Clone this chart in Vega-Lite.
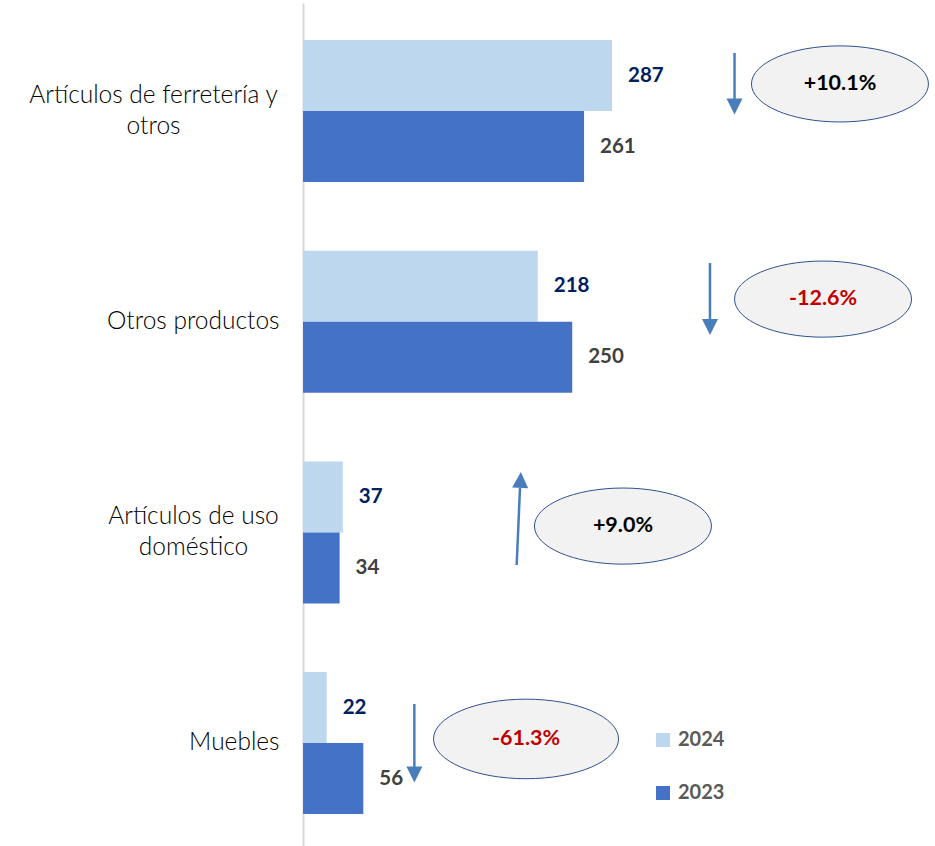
{
  "$schema": "https://vega.github.io/schema/vega-lite/v6.json",
  "width": 630,
  "height": 843,
  "autosize": {"type": "none"},
  "padding": {"left": 303, "top": 3, "right": 2, "bottom": 0},
  "background": "white",
  "config": {
    "view": {"stroke": null},
    "font": "Lato",
    "legend": {
      "orient": "none",
      "legendX": 350,
      "legendY": 727,
      "title": null,
      "symbolType": "square",
      "symbolSize": 196,
      "symbolStrokeWidth": 0,
      "labelFont": "Lato",
      "labelFontSize": 20,
      "labelFontWeight": "bold",
      "labelColor": "#595959",
      "labelOffset": 5,
      "rowPadding": 33
    }
  },
  "datasets": {
    "bars": [
      {"cat": "Artículos de ferretería y otros", "year": "2024", "value": 287},
      {"cat": "Artículos de ferretería y otros", "year": "2023", "value": 261},
      {"cat": "Otros productos", "year": "2024", "value": 218},
      {"cat": "Otros productos", "year": "2023", "value": 250},
      {"cat": "Artículos de uso doméstico", "year": "2024", "value": 37},
      {"cat": "Artículos de uso doméstico", "year": "2023", "value": 34},
      {"cat": "Muebles", "year": "2024", "value": 22},
      {"cat": "Muebles", "year": "2023", "value": 56}
    ],
    "ellipses": [
      {"cat": "Artículos de ferretería y otros", "x": 498.6, "y": 0.384, "pct": 10.1, "label": "+10.1%"},
      {"cat": "Otros productos", "x": 482.9, "y": 1.405, "pct": -12.6, "label": "-12.6%"},
      {"cat": "Artículos de uso doméstico", "x": 297.1, "y": 2.482, "pct": 9.0, "label": "+9.0%"},
      {"cat": "Muebles", "x": 207.1, "y": 3.492, "pct": -61.3, "label": "-61.3%"}
    ],
    "arrows": [
      {"cat": "Artículos de ferretería y otros", "x1": 400.7, "y1": 0.237, "x2": 400.7, "y2": 0.46, "tx": 400.7, "ty": 0.491, "dir": "down"},
      {"cat": "Otros productos", "x1": 377.9, "y1": 1.234, "x2": 377.9, "y2": 1.504, "tx": 377.9, "ty": 1.537, "dir": "down"},
      {"cat": "Artículos de uso doméstico", "x1": 198.4, "y1": 2.667, "x2": 201.5, "y2": 2.301, "tx": 202.0, "ty": 2.263, "dir": "up"},
      {"cat": "Muebles", "x1": 103.4, "y1": 3.326, "x2": 103.4, "y2": 3.63, "tx": 103.4, "ty": 3.661, "dir": "down"}
    ]
  },
  "layer": [
    {
      "data": {"name": "bars"},
      "encoding": {
        "y": {
          "field": "cat",
          "type": "nominal",
          "sort": ["Artículos de ferretería y otros", "Otros productos", "Artículos de uso doméstico", "Muebles"],
          "scale": {"paddingInner": 0.326, "paddingOuter": 0.1635, "align": 0.537},
          "axis": {
            "title": null,
            "domain": true,
            "domainColor": "#D9D9D9",
            "domainWidth": 2,
            "ticks": false,
            "labelFont": "Lato",
            "labelFontSize": 24.5,
            "labelFontWeight": 300,
            "labelColor": "#000000",
            "labelLineHeight": 31,
            "labelLimit": 400,
            "labelExpr": "datum.value == 'Artículos de ferretería y otros' ? ['Artículos de ferretería y', 'otros'] : datum.value == 'Artículos de uso doméstico' ? ['Artículos de uso', 'doméstico'] : datum.value",
            "labelAlign": {"condition": {"test": "indexof(datum.value, 'Artículos') >= 0", "value": "center"}, "value": "right"},
            "labelOffset": {"condition": {"test": "indexof(datum.value, 'Artículos') >= 0", "value": -15}, "value": 0},
            "labelPadding": {"condition": [
              {"test": "datum.value == 'Artículos de ferretería y otros'", "value": 150},
              {"test": "datum.value == 'Artículos de uso doméstico'", "value": 110}
            ], "value": 24}
          }
        },
        "yOffset": {"field": "year", "type": "nominal", "sort": ["2024", "2023"]},
        "x": {"field": "value", "type": "quantitative", "scale": {"domain": [0, 585], "nice": false}, "axis": null}
      },
      "layer": [
        {
          "mark": {"type": "bar"},
          "encoding": {
            "color": {
              "field": "year",
              "type": "nominal",
              "scale": {"domain": ["2024", "2023"], "range": ["#BDD7EE", "#4472C4"]},
              "legend": {}
            }
          }
        },
        {
          "mark": {"type": "text", "align": "left", "baseline": "middle", "dx": 16, "font": "Lato", "fontWeight": "bold", "fontSize": 20.5},
          "encoding": {
            "text": {"field": "value", "type": "quantitative"},
            "color": {"condition": {"test": "datum.year == '2024'", "value": "#002060"}, "value": "#404040"}
          }
        }
      ]
    },
    {
      "layer": [
        {
          "data": {"name": "arrows"},
          "mark": {"type": "rule", "color": "#4A7EBB", "strokeWidth": 2.5},
          "encoding": {
            "x": {"field": "x1", "type": "quantitative", "scale": {"domain": [0, 585], "nice": false}, "axis": null},
            "x2": {"field": "x2"},
            "y": {"field": "y1", "type": "quantitative", "scale": {"domain": [0, 4], "reverse": true, "nice": false, "zero": false}, "axis": null},
            "y2": {"field": "y2"}
          }
        },
        {
          "data": {"name": "arrows"},
          "mark": {"type": "point", "filled": true, "opacity": 1, "color": "#4A7EBB", "strokeWidth": 0, "size": 256},
          "encoding": {
            "x": {"field": "tx", "type": "quantitative", "scale": {"domain": [0, 585], "nice": false}, "axis": null},
            "y": {"field": "ty", "type": "quantitative", "scale": {"domain": [0, 4], "reverse": true, "nice": false, "zero": false}, "axis": null},
            "shape": {"condition": {"test": "datum.dir == 'up'", "value": "M -1 1 L 1 1 L 0 -1 Z"}, "value": "M -1 -1 L 1 -1 L 0 1 Z"},
            "angle": {"condition": {"test": "datum.dir == 'up'", "value": 2.5}, "value": 0}
          }
        },
        {
          "data": {"name": "ellipses"},
          "mark": {"type": "point", "filled": true, "opacity": 1, "fill": "#F2F2F2", "stroke": "#2F528F", "strokeWidth": 1, "shape": "M 1 0 C 1 0.2375 0.5523 0.43 0 0.43 C -0.5523 0.43 -1 0.2375 -1 0 C -1 -0.2375 -0.5523 -0.43 0 -0.43 C 0.5523 -0.43 1 -0.2375 1 0 Z"},
          "encoding": {
            "x": {"field": "x", "type": "quantitative", "scale": {"domain": [0, 585], "nice": false}, "axis": null},
            "y": {"field": "y", "type": "quantitative", "scale": {"domain": [0, 4], "reverse": true, "nice": false, "zero": false}, "axis": null},
            "size": {"condition": {"test": "datum.cat == 'Muebles'", "value": 34225}, "value": 31329}
          }
        },
        {
          "data": {"name": "ellipses"},
          "mark": {"type": "text", "align": "center", "baseline": "middle", "font": "Lato", "fontWeight": "bold", "fontSize": 21.5},
          "encoding": {
            "x": {"field": "x", "type": "quantitative", "scale": {"domain": [0, 585], "nice": false}, "axis": null},
            "y": {"field": "y", "type": "quantitative", "scale": {"domain": [0, 4], "reverse": true, "nice": false, "zero": false}, "axis": null},
            "text": {"field": "label"},
            "color": {"condition": {"test": "datum.pct < 0", "value": "#C00000"}, "value": "#000000"}
          }
        }
      ]
    }
  ],
  "resolve": {"scale": {"y": "independent"}, "axis": {"y": "independent"}}
}
